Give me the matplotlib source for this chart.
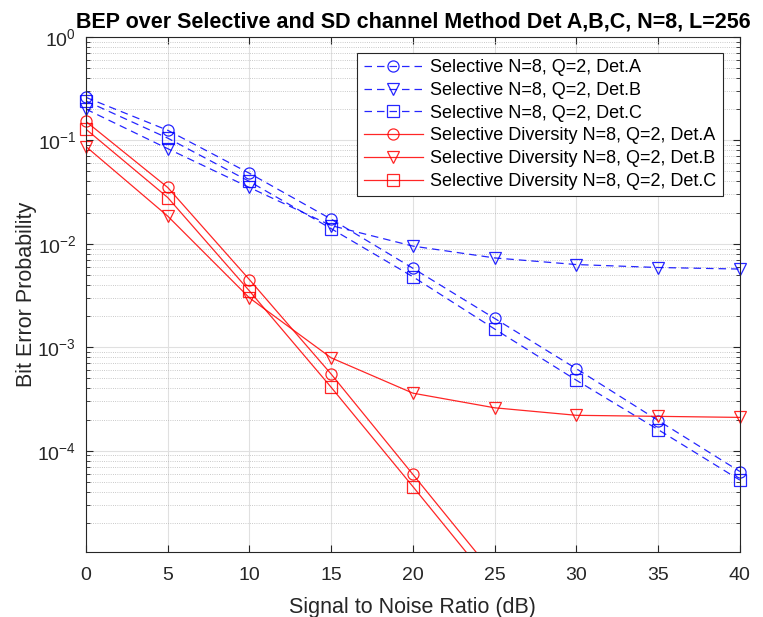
import matplotlib
matplotlib.use("Agg")
import matplotlib.pyplot as plt
from matplotlib.lines import Line2D
from matplotlib.ticker import LogLocator, NullFormatter, MultipleLocator

plt.rcParams["font.family"] = ["Liberation Sans", "DejaVu Sans"]

# SNR points (dB)
snr = [0, 5, 10, 15, 20, 25, 30, 35, 40]

# Selective channel
sel_a = [0.26, 0.125, 0.048, 0.0173, 0.0058, 0.0019, 6.2e-4, 1.96e-4, 6.3e-5]
sel_b = [0.20, 0.083, 0.035, 0.0150, 0.0095, 0.0073, 0.0063, 0.0059, 0.0057]
sel_c = [0.24, 0.105, 0.040, 0.0140, 0.0048, 0.0015, 4.8e-4, 1.6e-4, 5.2e-5]

# Selective diversity
sd_a = [0.152, 0.035, 0.0045, 5.5e-4, 5.9e-5, 6.3e-6, 7.0e-7, 8.0e-8, 9.0e-9]
sd_b = [0.087, 0.0185, 0.0030, 7.9e-4, 3.6e-4, 2.6e-4, 2.2e-4, 2.15e-4, 2.1e-4]
sd_c = [0.128, 0.028, 0.0035, 4.1e-4, 4.5e-5, 4.8e-6, 5.0e-7, 5.5e-8, 6.0e-9]

labels = [
    "Selective N=8, Q=2, Det.A",
    "Selective N=8, Q=2, Det.B",
    "Selective N=8, Q=2, Det.C",
    "Selective Diversity N=8, Q=2, Det.A",
    "Selective Diversity N=8, Q=2, Det.B",
    "Selective Diversity N=8, Q=2, Det.C",
]

y_lo, y_hi = 1.05e-5, 1.0

fig = plt.figure(figsize=(7.63, 6.17), dpi=100)
ax = fig.add_axes([0.1127, 0.1053, 0.857, 0.835])

blue = "#0000ff"
red = "#ff0000"
dash = (0, (6, 4))
ms = 8

series = [
    (sel_a, "o", blue, dash), (sel_b, "v", blue, dash), (sel_c, "s", blue, dash),
    (sd_a, "o", red, "-"), (sd_b, "v", red, "-"), (sd_c, "s", red, "-"),
]

handles = []
for (ys, mk, col, ls), lab in zip(series, labels):
    # line clipped to the axes, markers drawn unclipped so edge ones stay whole
    ax.semilogy(snr, ys, linestyle=ls, color=col, lw=0.9, alpha=0.85)
    pts = [(x, y) for x, y in zip(snr, ys) if y_lo <= y <= y_hi]
    ax.plot([p[0] for p in pts], [p[1] for p in pts], linestyle="none",
            marker=mk, ms=ms, mfc="none", mec=col, mew=0.9, alpha=0.85,
            clip_on=False)
    handles.append(Line2D([], [], linestyle=ls, color=col, lw=0.9, marker=mk,
                          ms=ms, mfc="none", mec=col, mew=0.9, alpha=0.85))

ax.set_xlim(0, 40)
ax.set_ylim(y_lo, y_hi)
ax.xaxis.set_major_locator(MultipleLocator(5))
ax.yaxis.set_major_locator(LogLocator(base=10, numticks=10))
ax.yaxis.set_minor_locator(LogLocator(base=10, subs=range(2, 10), numticks=10))
ax.yaxis.set_minor_formatter(NullFormatter())

ax.grid(True, which="major", color="#e0e0e0", lw=0.8)
ax.grid(True, which="minor", axis="y", color="#b8b8b8", lw=0.6, linestyle=":")
ax.set_axisbelow(True)

ax.tick_params(which="both", direction="in", top=True, right=True,
               colors="#262626", labelsize=14)
ax.tick_params(which="major", length=5)
ax.tick_params(axis="x", which="major", pad=11)
ax.tick_params(axis="y", which="major", pad=7)
ax.tick_params(which="minor", length=3)
for sp in ax.spines.values():
    sp.set_color("#262626")
    sp.set_linewidth(0.8)

ax.set_xlabel("Signal to Noise Ratio (dB)", fontsize=15.5, color="#262626",
              labelpad=9)
ax.set_ylabel("Bit Error Probability", fontsize=15.5, color="#262626",
              labelpad=0)
ax.set_title("BEP over Selective and SD channel Method Det A,B,C, N=8, L=256",
             fontsize=15.5, fontweight="bold", pad=7)

leg = ax.legend(handles, labels, loc="upper right",
                bbox_to_anchor=(0.974, 0.969), borderaxespad=0, fontsize=13,
                fancybox=False, framealpha=1, edgecolor="#262626",
                handlelength=3.3, handletextpad=0.4, borderpad=0.35,
                labelspacing=0.32)
leg.get_frame().set_linewidth(0.8)

fig.savefig("out.png", dpi=100)
